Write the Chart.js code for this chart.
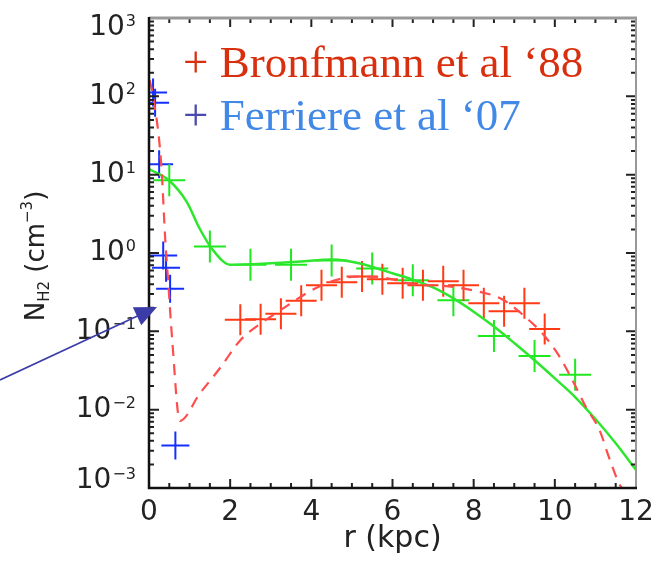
<!DOCTYPE html>
<html>
<head>
<meta charset="utf-8">
<script src="https://cdn.jsdelivr.net/npm/chart.js@4"></script>
<style>
  html, body { margin: 0; padding: 0; background: #fff; }
  #wrap { width: 654px; height: 562px; }
</style>
</head>
<body>
<div id="wrap"><canvas id="nh2Chart" width="654" height="562"></canvas></div>
<script>
// H2 density vs galactocentric radius

// Bronfmann et al '88 data (red crosses)
const redR = [2.25, 2.75, 3.25, 3.75, 4.25, 4.75, 5.25, 5.75, 6.25, 6.75, 7.25, 7.75, 8.25, 8.75, 9.25, 9.75];
const redN = [0.141, 0.143, 0.168, 0.246, 0.387, 0.423, 0.503, 0.461, 0.410, 0.387, 0.435, 0.387, 0.229, 0.181, 0.229, 0.107];

// Ferriere et al '07 (blue crosses)
const blueR = [0.10, 0.15, 0.25, 0.35, 0.42, 0.52, 0.65];
const blueN = [112, 83, 13.6, 0.93, 0.65, 0.35, 0.0035];

// green crosses
const greenR = [0.5, 1.5, 2.5, 3.5, 4.5, 5.5, 6.5, 7.5, 8.5, 9.5, 10.5];
const greenN = [8.5, 1.21, 0.71, 0.71, 0.80, 0.635, 0.45, 0.25, 0.087, 0.0486, 0.028];

// green model curve (solid)
const greenCurveR = [0, 0.49, 0.93, 1.25, 1.57, 2.0, 2.9, 3.71, 4.53, 5.2, 5.85, 6.5, 7.0, 7.5, 8.0, 8.5, 9.0, 9.5, 10.0, 10.5, 11.0, 11.5, 12.0];
const greenCurveN = [11.8, 8.5, 4.5, 2.04, 1.1, 0.71, 0.736, 0.78, 0.826, 0.736, 0.582, 0.457, 0.363, 0.263, 0.178, 0.115, 0.0708, 0.0427, 0.0251, 0.0145, 0.00759, 0.00372, 0.0017];

// red model curve (dashed)
const redCurveR = [0.02, 0.1, 0.3, 0.4, 0.47, 0.57, 0.76, 1.25, 1.75, 2.24, 2.73, 3.02, 3.47, 3.96, 4.52, 5.1, 5.85, 6.5, 7.25, 8.1, 8.7, 9.25, 9.7, 10.1, 10.4, 10.77, 11.1, 11.33, 11.58, 11.65];
const redCurveN = [160, 100, 14, 1.5, 0.45, 0.08, 0.0072, 0.016, 0.034, 0.076, 0.124, 0.156, 0.224, 0.324, 0.437, 0.50, 0.479, 0.398, 0.38, 0.324, 0.257, 0.156, 0.093, 0.049, 0.0257, 0.0107, 0.0055, 0.0025, 0.00115, 0.001];

const xTicks = [0, 2, 4, 6, 8, 10, 12];
const yExps = [-3, -2, -1, 0, 1, 2, 3];

const pts = (xs, ys) => xs.map((x, i) => ({ x: x, y: ys[i] }));

const numFont = '"DejaVu Sans", sans-serif';
const serifFont = '"Liberation Serif", "Times New Roman", serif';

const framePlugin = {
  id: 'frame',
  afterDraw(chart) {
    const c = chart.ctx;
    const a = chart.chartArea;
    const xs = chart.scales.x, ys = chart.scales.y;
    c.save();

    // ticks (inward)
    c.lineWidth = 2;
    c.strokeStyle = '#222';
    for (let v = 0; v <= 12.001; v += 0.5) {
      const px = xs.getPixelForValue(v);
      const len = (Math.abs(v % 2) < 0.01) ? 9 : 5;
      c.beginPath();
      c.moveTo(px, a.bottom); c.lineTo(px, a.bottom - len);
      c.moveTo(px, a.top); c.lineTo(px, a.top + len);
      c.stroke();
    }
    for (let k = -3; k <= 2; k++) {
      for (let m = 1; m <= 9; m++) {
        const v = m * Math.pow(10, k);
        const py = ys.getPixelForValue(v);
        const len = m === 1 ? 10 : 5;
        c.beginPath();
        c.moveTo(a.left, py); c.lineTo(a.left + len, py);
        c.moveTo(a.right, py); c.lineTo(a.right - len, py);
        c.stroke();
      }
    }

    // frame
    c.strokeStyle = '#999';
    c.lineWidth = 3;
    c.beginPath(); c.moveTo(a.left, a.top); c.lineTo(a.right + 1, a.top); c.stroke();
    c.lineWidth = 2;
    c.beginPath(); c.moveTo(a.right, a.top); c.lineTo(a.right, a.bottom); c.stroke();
    c.strokeStyle = '#111';
    c.lineWidth = 2.5;
    c.beginPath(); c.moveTo(a.left, a.top - 1); c.lineTo(a.left, a.bottom); c.lineTo(a.right + 1, a.bottom); c.stroke();

    // x tick labels
    c.fillStyle = '#222';
    c.font = '28px ' + numFont;
    c.textAlign = 'center';
    c.textBaseline = 'middle';
    xTicks.forEach(v => {
      c.fillText(String(v), xs.getPixelForValue(v), 513);
    });

    // y tick labels: 10 with superscript exponent
    yExps.forEach(e => {
      let py = ys.getPixelForValue(Math.pow(10, e));
      py = Math.min(Math.max(py, a.top + 10), a.bottom - 7);
      const expStr = e < 0 ? '\u2212' + Math.abs(e) : String(e);
      c.font = '16px ' + numFont;
      const ew = c.measureText(expStr).width;
      c.textAlign = 'left';
      c.textBaseline = 'alphabetic';
      c.fillText(expStr, 136 - ew, py - 2);
      c.font = '28px ' + numFont;
      c.textAlign = 'right';
      c.textBaseline = 'middle';
      c.fillText('10', 136 - ew - 1, py);
    });

    // x title
    c.font = '30px ' + numFont;
    c.textAlign = 'center';
    c.textBaseline = 'middle';
    c.fillText('r (kpc)', (a.left + a.right) / 2, 539);

    // y title, rotated
    c.save();
    c.translate(44, 256);
    c.rotate(-Math.PI / 2);
    const big = '26px ' + numFont, small = '15px ' + numFont;
    const parts = [
      { t: 'N', f: big, dy: 0 },
      { t: 'H2', f: small, dy: 5 },
      { t: ' (cm', f: big, dy: 0 },
      { t: '\u22123', f: small, dy: -12 },
      { t: ')', f: big, dy: 0 }
    ];
    let total = 0;
    parts.forEach(p => { c.font = p.f; p.w = c.measureText(p.t).width; total += p.w; });
    let cx = -total / 2;
    c.textAlign = 'left';
    c.textBaseline = 'alphabetic';
    parts.forEach(p => { c.font = p.f; c.fillText(p.t, cx, p.dy); cx += p.w; });
    c.restore();

    // legend
    c.font = '45px ' + serifFont;
    c.textAlign = 'left';
    c.textBaseline = 'alphabetic';
    c.fillStyle = '#d8300e';
    c.fillText('+ Bronfmann et al \u201888', 183, 77);
    c.fillStyle = '#4a4aae';
    c.fillText('+', 183, 130);
    const pw = c.measureText('+ ').width;
    c.fillStyle = '#4288e6';
    c.fillText('Ferriere et al \u201807', 183 + pw, 130);

    // arrow
    c.strokeStyle = '#3c3ca8';
    c.fillStyle = '#3c3ca8';
    c.lineWidth = 1.6;
    const tipX = 157, tipY = 307;
    const ang = Math.atan2(tipY - 380, tipX - 0);
    c.beginPath(); c.moveTo(0, 380); c.lineTo(tipX - 15 * Math.cos(ang), tipY - 15 * Math.sin(ang)); c.stroke();
    const hl = 22, hw = 10;
    const bx = tipX - hl * Math.cos(ang), by = tipY - hl * Math.sin(ang);
    c.beginPath();
    c.moveTo(tipX, tipY);
    c.lineTo(bx + hw * Math.sin(ang), by - hw * Math.cos(ang));
    c.lineTo(bx - hw * Math.sin(ang), by + hw * Math.cos(ang));
    c.closePath();
    c.fill();

    c.restore();
  }
};

const ctx = document.getElementById('nh2Chart').getContext('2d');
const nh2Chart = new Chart(ctx, {
  type: 'scatter',
  data: {
    datasets: [
      {
        label: 'model red',
        data: pts(redCurveR, redCurveN),
        showLine: true,
        borderColor: '#ff4d4d',
        borderWidth: 2.2,
        borderDash: [11, 8],
        pointRadius: 0,
        cubicInterpolationMode: 'monotone'
      },
      {
        label: 'model green',
        data: pts(greenCurveR, greenCurveN),
        showLine: true,
        borderColor: '#2ee62e',
        borderWidth: 2.5,
        pointRadius: 0,
        cubicInterpolationMode: 'monotone'
      },
      {
        label: 'Bronfmann et al 88',
        data: pts(redR, redN),
        pointStyle: 'cross',
        pointRadius: 15.5,
        borderColor: '#ff3a14',
        borderWidth: 2,
        showLine: false
      },
      {
        label: 'green data',
        data: pts(greenR, greenN),
        pointStyle: 'cross',
        pointRadius: 16,
        borderColor: '#1fe81f',
        borderWidth: 2,
        showLine: false
      },
      {
        label: 'Ferriere et al 07',
        data: pts(blueR, blueN),
        pointStyle: 'cross',
        pointRadius: 14,
        borderColor: '#1430ff',
        borderWidth: 2,
        showLine: false
      }
    ]
  },
  options: {
    responsive: false,
    animation: false,
    layout: { padding: { left: 0, top: 15, right: 17, bottom: 0 } },
    plugins: { legend: { display: false }, tooltip: { enabled: false } },
    scales: {
      x: {
        type: 'linear', min: 0, max: 12,
        grid: { display: false }, border: { display: false },
        ticks: { display: false },
        afterFit(s) { s.height = 74; }
      },
      y: {
        type: 'logarithmic', min: 1e-3, max: 1e3,
        grid: { display: false }, border: { display: false },
        ticks: { display: false },
        afterFit(s) { s.width = 149; }
      }
    }
  },
  plugins: [framePlugin]
});
</script>
</body>
</html>
